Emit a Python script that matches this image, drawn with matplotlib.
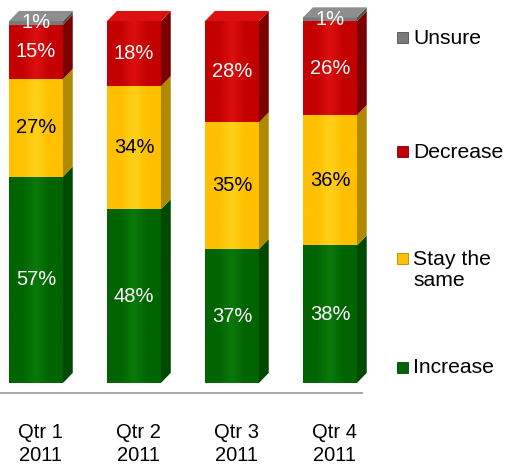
import numpy as np
import matplotlib.pyplot as plt
from matplotlib.colors import LinearSegmentedColormap
from matplotlib.patches import Polygon, Rectangle
from matplotlib.lines import Line2D

plt.rcParams['font.family'] = ['Liberation Sans', 'DejaVu Sans']

# data
quarters = ['Qtr 1\n2011', 'Qtr 2\n2011', 'Qtr 3\n2011', 'Qtr 4\n2011']
increase = [57, 48, 37, 38]
stay = [27, 34, 35, 36]
decrease = [15, 18, 28, 26]
unsure = [1, 0, 0, 1]

series = ['Increase', 'Stay the same', 'Decrease', 'Unsure']
values = [increase, stay, decrease, unsure]

# face, highlight, side colours, label colour
styles = {
    'Increase': ('#006400', '#0a7a0a', '#004a00', 'white'),
    'Stay the same': ('#ffc000', '#ffd21a', '#b08a00', 'black'),
    'Decrease': ('#c40000', '#dd1010', '#7c0000', 'white'),
    'Unsure': ('#7a7a7a', '#8e8e8e', '#505050', 'white'),
}

fig = plt.figure(figsize=(5.05, 4.65), dpi=100)
ax = fig.add_axes([0, 82 / 465, 380 / 505, 380 / 465])

width = 0.55
dx = 0.10
dy = 2.8
x = np.arange(len(quarters))
bottom = np.zeros(len(quarters))

for name, vals in zip(series, values):
    face, hi, side, tc = styles[name]
    cmap = LinearSegmentedColormap.from_list(name, [face, face, hi, face, face])
    grad = np.linspace(0, 1, 64).reshape(1, -1)
    for i, v in enumerate(vals):
        if v == 0:
            continue
        b = bottom[i]
        t = b + v
        x0 = x[i] - width / 2
        x1 = x[i] + width / 2
        rect = Rectangle((x0, b), width, v, facecolor=face, edgecolor='none', zorder=2)
        ax.add_patch(rect)
        im = ax.imshow(grad, extent=[x0, x1, b, t], aspect='auto', cmap=cmap,
                       interpolation='bicubic', zorder=2)
        im.set_clip_path(rect)
        ax.add_patch(Polygon([(x1, b), (x1 + dx, b + dy), (x1 + dx, t + dy), (x1, t)],
                             closed=True, facecolor=side, edgecolor='none', zorder=2))
        ax.text(x[i], b + v / 2, f'{v}%', ha='center', va='center',
                color=tc, fontsize=14.5, zorder=5)
    bottom += np.array(vals)

# top faces
for i in range(len(quarters)):
    top_name = [n for n, vals in zip(series, values) if vals[i] > 0][-1]
    face = styles[top_name][1]
    x0 = x[i] - width / 2
    x1 = x[i] + width / 2
    t = bottom[i]
    ax.add_patch(Polygon([(x0, t), (x1, t), (x1 + dx, t + dy), (x0 + dx, t + dy)],
                         closed=True, facecolor=face, edgecolor='none', zorder=2))

for i, q in enumerate(quarters):
    ax.text(x[i] + dx / 2, -11, q, ha='center', va='top', fontsize=14.5,
            linespacing=1.25)

ax.set_xlim(-36 / 98, (380 - 36) / 98)
ax.set_ylim(0, 105)
ax.axis('off')

# base line
fig.add_artist(Line2D([0, 362 / 505], [1 - 393 / 465, 1 - 393 / 465],
                      color='#a0a0a0', lw=1.3))

# legend
leg_y = [367, 270, 152, 38]
leg_labels = ['Increase', 'Stay the\nsame', 'Decrease', 'Unsure']
for name, lab, yy in zip(series, leg_labels, leg_y):
    face = styles[name][0]
    my = yy - 12 if '\n' in lab else yy
    fig.add_artist(Rectangle((397 / 505, 1 - (my + 5.5) / 465), 11 / 505, 11 / 465,
                             facecolor=face, edgecolor=styles[name][2], lw=0.6))
    fig.text(413 / 505, 1 - yy / 465, lab, ha='left', va='center', fontsize=15.2,
             linespacing=1.15)

fig.savefig('out.png', dpi=100)
